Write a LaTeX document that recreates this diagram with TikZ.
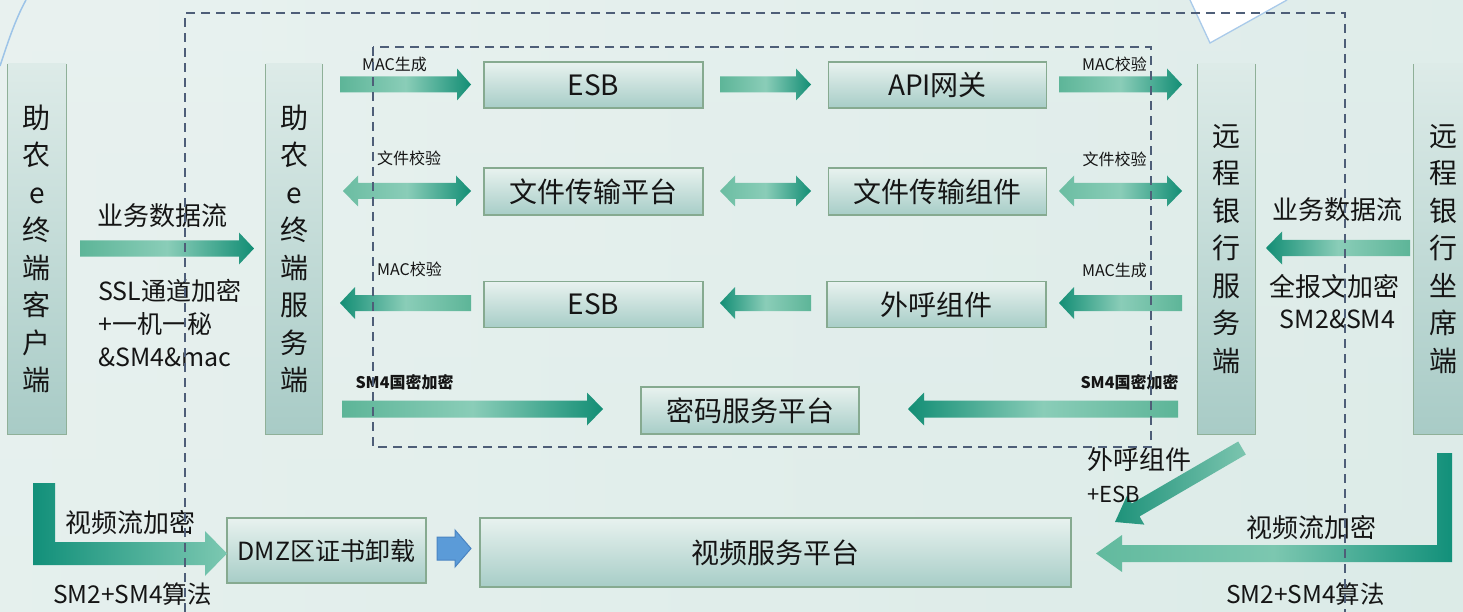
\documentclass[tikz,border=0pt]{standalone}
\usepackage{fontspec}
\setmainfont{Noto Sans CJK SC}
\usetikzlibrary{calc}
\definecolor{txt}{HTML}{151515}
\definecolor{dashc}{HTML}{4E5E78}
\definecolor{adark}{HTML}{138E75}
\definecolor{amid}{HTML}{5DB598}
\definecolor{alight}{HTML}{8ACDB8}
\definecolor{dmid}{HTML}{6BBDA2}
\definecolor{bgA}{HTML}{EAF3F1}
\definecolor{bgB}{HTML}{D3E7E3}
\definecolor{bgC}{HTML}{E8F1EF}
\definecolor{bgD}{HTML}{CCE2DE}
\definecolor{bgE}{HTML}{E2EEEB}
\definecolor{arcc}{HTML}{9DC4E8}
\definecolor{triC}{HTML}{A9CAEA}
\definecolor{hTop}{HTML}{E8F2EF}
\definecolor{hBot}{HTML}{A7CDC7}
\definecolor{hBrd}{HTML}{86AA90}
\definecolor{vTop}{HTML}{DDEBE8}
\definecolor{vBot}{HTML}{A8CBC6}
\definecolor{vBrd}{HTML}{8FB098}
\definecolor{lA}{HTML}{12907A}
\definecolor{lB}{HTML}{7CC8B1}
\definecolor{lC}{HTML}{62BA9E}
\definecolor{lD}{HTML}{7CC7B0}
\definecolor{gA}{HTML}{1E927A}
\definecolor{gB}{HTML}{7CC5AF}
\definecolor{blF}{HTML}{5B9BD8}
\definecolor{blD}{HTML}{4A84C2}
\newcommand\fatarr[7]{%
  \path[#1] (#2,{#4-#5}) -- ({#3-#7},{#4-#5}) -- ({#3-#7},{#4-#6}) -- (#3,#4)
    -- ({#3-#7},{#4+#6}) -- ({#3-#7},{#4+#5}) -- (#2,{#4+#5}) -- cycle;}
\newcommand\dblarr[7]{%
  \path[#1] (#2,#4) -- ({#2+#7},{#4-#6}) -- ({#2+#7},{#4-#5}) -- ({#3-#7},{#4-#5})
    -- ({#3-#7},{#4-#6}) -- (#3,#4) -- ({#3-#7},{#4+#6}) -- ({#3-#7},{#4+#5})
    -- ({#2+#7},{#4+#5}) -- ({#2+#7},{#4+#6}) -- cycle;}
\begin{document}
\begin{tikzpicture}[x=1pt,y=-1pt,
  hbox/.style={rectangle, inner sep=0pt, top color=hTop, bottom color=hBot,
    draw=hBrd, line width=1.3pt, text=txt, font=\fontsize{28}{32}\selectfont},
  vbox/.style={rectangle, inner sep=0pt, top color=vTop, bottom color=vBot,
    text=txt, align=center, font=\fontsize{28}{37.5}\selectfont},
  vborder/.style={draw=vBrd, line width=1.3pt},
  rarr/.style={left color=amid, right color=adark, middle color=alight},
  larr/.style={left color=adark, right color=amid, middle color=alight},
  darr/.style={left color=dmid, right color=adark, middle color=alight},
  lab/.style={text=txt, inner sep=0pt, font=\fontsize{16}{18}\selectfont},
  blab/.style={text=txt, inner sep=0pt, font=\fontsize{16}{18}\selectfont\bfseries},
  mlab/.style={text=txt, inner sep=0pt, font=\fontsize{26}{33}\selectfont},
  dline/.style={draw=dashc, line width=1.6pt, dash pattern=on 9pt off 6pt}
]
\useasboundingbox (0,0) rectangle (1463,612);
% background
\shade[left color=bgA, right color=bgB] (0,0) rectangle (1463,612);
\shade[top color=bgC, middle color=bgD, bottom color=bgE, opacity=0.6] (0,0) rectangle (1463,612);
\draw[arcc, line width=1.5pt] (0,66) .. controls (8,42) and (15,20) .. (26,0);
\draw[triC, line width=1.3pt, fill=white] (1190,0) -- (1210,43) -- (1287,0);

% vertical boxes
\node[vbox, minimum width=58pt, minimum height=370pt] (L1) at (37,249) {助\\农\\e\\终\\端\\客\\户\\端};
\node[vbox, minimum width=56pt, minimum height=370pt] (L2) at (294,249) {助\\农\\e\\终\\端\\服\\务\\端};
\node[vbox, minimum width=57pt, minimum height=370pt] (R1) at (1226.5,249) {远\\程\\银\\行\\服\\务\\端};
\node[vbox, minimum width=58pt, minimum height=370pt] (R2) at (1443,249) {远\\程\\银\\行\\坐\\席\\端};
\foreach \b in {L1,L2,R1,R2}
  \draw[vborder] (\b.north west) -- (\b.south west) -- (\b.south east) -- (\b.north east);

% horizontal boxes
\node[hbox, minimum width=219pt, minimum height=46pt] (esbA) at (593.5,85) {ESB};
\node[hbox, minimum width=218pt, minimum height=46pt] (api) at (937.5,85) {API网关};
\node[hbox, minimum width=219pt, minimum height=47pt] (ftp) at (593.5,191.5) {文件传输平台};
\node[hbox, minimum width=218pt, minimum height=47pt] (ftc) at (937.5,191.5) {文件传输组件};
\node[hbox, minimum width=219pt, minimum height=46pt] (esbB) at (593.5,304.5) {ESB};
\node[hbox, minimum width=219pt, minimum height=46pt] (wh) at (936.5,304.5) {外呼组件};
\node[hbox, minimum width=218pt, minimum height=47pt] (mm) at (750,410.5) {密码服务平台};
\node[hbox, minimum width=199pt, minimum height=65pt, font=\fontsize{25}{30}\selectfont] (dmz) at (326.5,550.5) {DMZ区证书卸载};
\node[hbox, minimum width=591pt, minimum height=69pt] (vsp) at (775.5,552.5) {视频服务平台};

% row arrows
\fatarr{rarr}{340}{471}{84.5}{8}{16}{14}
\fatarr{rarr}{720}{811}{84.5}{8}{16}{15}
\fatarr{rarr}{1059}{1182}{84.5}{8}{16}{15}
\dblarr{darr}{343}{471}{191}{8}{15.5}{15}
\dblarr{darr}{720}{811}{191}{8}{15.5}{15}
\dblarr{darr}{1059}{1182}{191}{8}{15.5}{15}
\fatarr{larr}{471}{340}{303}{8}{16}{-15}
\fatarr{larr}{811}{720}{303}{8}{16}{-15}
\fatarr{larr}{1182}{1059}{303}{8}{16}{-15}
\fatarr{rarr}{342}{603}{409}{8.5}{16.5}{16}
\fatarr{larr}{1178}{908}{409}{8.5}{16.5}{-16}
\fatarr{rarr}{80}{254}{248.5}{8}{16}{15}
\fatarr{larr}{1410}{1266}{248}{8}{16.5}{-16}

% L-shaped video arrows
\path[left color=lA, right color=lB]
  (33,483) -- (55,483) -- (55,542) -- (205,542) -- (205,531) -- (227,553.5)
  -- (205,576) -- (205,565) -- (33,565) -- cycle;
\path[left color=lC, right color=lA, middle color=lD]
  (1452,453) -- (1452,562) -- (1122,562) -- (1122,572) -- (1096,553.5)
  -- (1122,535) -- (1122,545) -- (1437,545) -- (1437,453) -- cycle;
% diagonal arrow
\path[left color=gA, right color=gB]
  (1238.2,441.5) -- (1131.8,503.4) -- (1127.1,495.2) -- (1115,522)
  -- (1144.3,524.6) -- (1139.6,516.4) -- (1245.8,454.5) -- cycle;
% blue arrow
\path[fill=blF, draw=blD, line width=1pt]
  (437,537) -- (455,537) -- (455,530) -- (471,548.5) -- (455,567) -- (455,560) -- (437,560) -- cycle;

% small labels
\node[lab] (m1) at (394.5,64.5) {MAC生成};
\node[lab] (m2) at (409,158) {文件校验};
\node[lab] (m3) at (409.5,269.5) {MAC校验};
\node[lab] (m4) at (1114.5,64.5) {MAC校验};
\node[lab] (m5) at (1114.5,159) {文件校验};
\node[lab] (m6) at (1114.5,270) {MAC生成};
\node[blab] (s1) at (404.5,382.5) {SM4国密加密};
\node[blab] (s2) at (1129.5,382.5) {SM4国密加密};

% medium labels
\node[mlab] (b1) at (162.5,216) {业务数据流};
\node[mlab, align=left, anchor=west, font=\fontsize{25}{33}\selectfont] (ssl) at (98,323) {SSL通道加密\\+一机一秘\\\&SM4\&mac};
\node[mlab] (b2) at (1337,210) {业务数据流};
\node[mlab] (q1) at (1334.5,287) {全报文加密};
\node[mlab, font=\fontsize{25}{30}\selectfont] (q2) at (1337.5,319) {SM2\&SM4};
\node[mlab] (v1) at (130,523) {视频流加密};
\node[mlab, font=\fontsize{24.5}{30}\selectfont] (v2) at (132.5,594) {SM2+SM4算法};
\node[mlab] (v3) at (1311,528) {视频流加密};
\node[mlab, font=\fontsize{24.5}{30}\selectfont] (v4) at (1305.5,594) {SM2+SM4算法};
\node[mlab, anchor=west] (w1) at (1087,460) {外呼组件};
\node[mlab, anchor=west, font=\fontsize{22}{26}\selectfont] (w2) at (1087,494.5) {+ESB};

% dashed frames
\draw[dline] (185,612) -- (185,13) -- (1345,13) -- (1345,612);
\draw[dline] (373,47) rectangle (1151,447);
\end{tikzpicture}
\end{document}
